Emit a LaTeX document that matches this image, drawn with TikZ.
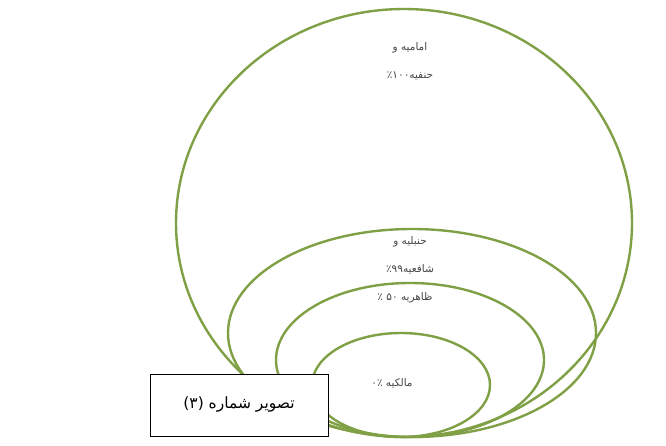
\documentclass[tikz,border=0pt]{standalone}
\usepackage{fontspec}
\newfontfamily\arabicfont[Script=Arabic]{DejaVu Sans}
\TeXXeTstate=1
\definecolor{ringgreen}{RGB}{128,160,70}
\definecolor{labelgray}{RGB}{70,70,70}
\tikzset{
  ring/.style={draw=ringgreen, line width=2.4pt},
  lbl/.style={font=\arabicfont\fontsize{10.5}{28}\selectfont, text=labelgray, align=center, inner sep=0pt},
  capbox/.style={draw=black, line width=0.9pt, fill=white, minimum width=178pt, minimum height=62pt, font=\arabicfont\fontsize{15.5}{18}\selectfont, inner sep=0pt}
}
\begin{document}
\begin{tikzpicture}[x=1pt,y=-1pt]
\useasboundingbox (0,0) rectangle (666,446);
\fill[white] (0,0) rectangle (666,446);
\draw[ring] (404,223) ellipse [x radius=228, y radius=214];
\draw[ring] (412,333) ellipse [x radius=184, y radius=104];
\draw[ring] (410,360) ellipse [x radius=134, y radius=77];
\draw[ring] (401,385) ellipse [x radius=89, y radius=52];
\node[lbl] (t1) at (410,61) {\beginR امامیه و\endR\\ \beginR حنفیه۱۰۰٪\endR};
\node[lbl] (t2) at (410,255) {\beginR حنبلیه و\endR\\ \beginR شافعیه۹۹٪\endR};
\node[lbl] (t3) at (405,298) {\beginR ظاهریه ۵۰ ٪\endR};
\node[lbl] (t4) at (392,383) {\beginR مالکیه ۰٪\endR};
\node[capbox] (cap) at (239,405) {\beginR تصویر شماره (۳)\endR};
\end{tikzpicture}
\end{document}
